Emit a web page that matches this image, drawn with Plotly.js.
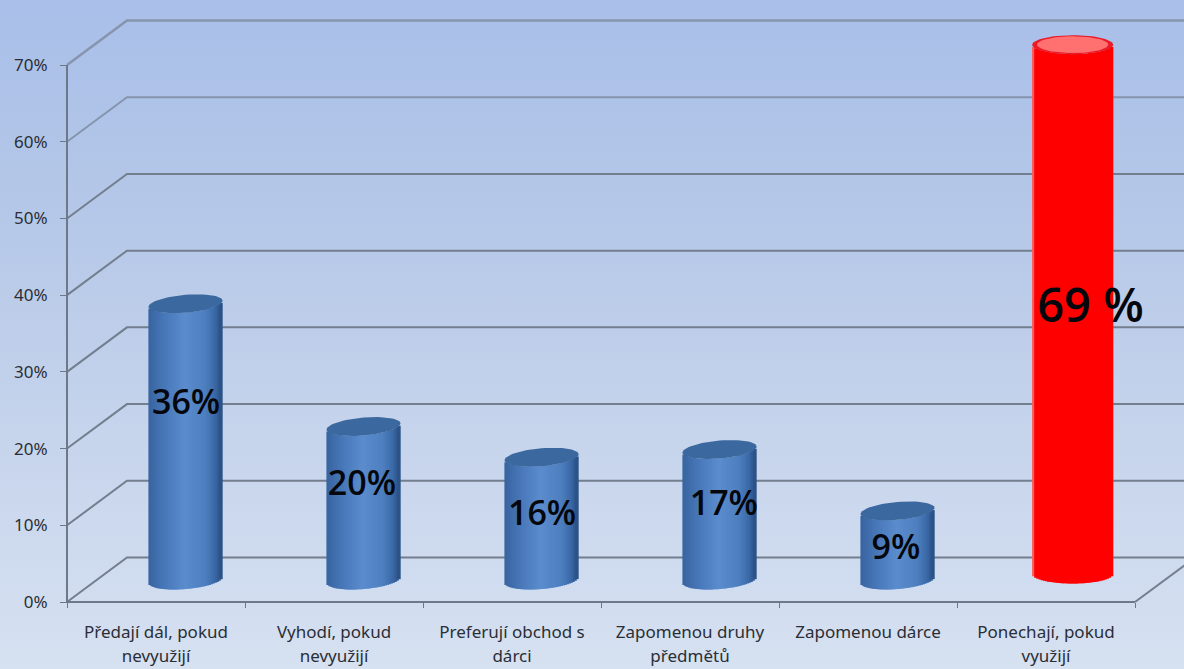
<!DOCTYPE html>
<html lang="cs">
<head>
<meta charset="utf-8">
<title>Nevyužité dárky</title>
<script src="https://cdn.plot.ly/plotly-3.0.1.min.js"></script>
<style>
  html, body { margin: 0; padding: 0; width: 1184px; height: 669px; overflow: hidden;
    background: linear-gradient(180deg, #a9bfe9 0%, #b4c7e8 30%, #c6d4ec 65%, #d6e1f1 100%); }
  #chart { width: 1184px; height: 669px; }
</style>
</head>
<body>
<div id="chart"></div>
<script>
// Survey results
const categories = [
  "Předají dál, pokud<br>nevyužijí",
  "Vyhodí, pokud<br>nevyužijí",
  "Preferují obchod s<br>dárci",
  "Zapomenou druhy<br>předmětů",
  "Zapomenou dárce",
  "Ponechají, pokud<br>využijí"
];
const percentages = [36, 20, 16, 17, 9, 69];
const valueSuffixes = ["%", "%", "%", "%", "%", " %"];
const percentTicks = [0, 10, 20, 30, 40, 50, 60, 70];

// Axis windows: the plot fills the page so the perspective walls can run past the axes
const xWindow = [-0.8764, 5.7753];
const yWindow = [-8.734, 78.473];
const xAxisPosition = 67 / 669;
const yAxisPosition = 67 / 1184;

// Scene geometry, in axis units
const backWallDx = 0.337;
const backWallDy = 5.8;
const pxPerUnitY = 7.67;
const cylinderOffsetX = [0.166, 0.166, 0.166, 0.166, 0.166, 0.15];
const cylinderWidthX = [0.416, 0.416, 0.416, 0.416, 0.416, 0.455];
const cylinderFloor = [2.87, 2.87, 2.87, 2.87, 2.87, 3.65];
const capRadiusY = [9, 9, 9, 9, 9, 9.5].map(p => p / pxPerUnitY);
const capTiltY = [3, 3, 3, 3, 3, 0].map(p => p / pxPerUnitY);
const labelX = [0.169, 1.157, 2.169, 3.19, 4.157, 5.25];
const labelY = [25.6, 15.0, 11.2, 12.5, 6.7, 38.0];
const labelSize = [34, 34, 34, 34, 34, 47];
const highlighted = 5;
const stripCount = 37;

const mix = (a, b, f) => a.map((c, i) => Math.round(c + (b[i] - c) * f));
const rgb = c => `rgb(${c[0]},${c[1]},${c[2]})`;
const blueStops = [[-1, [56, 100, 160]], [-0.55, [72, 120, 184]], [0, [90, 140, 206]],
                   [0.55, [78, 128, 192]], [0.85, [58, 104, 165]], [1, [40, 78, 128]]];

function blueAt(t) {
  for (let i = 1; i < blueStops.length; i++) {
    if (t <= blueStops[i][0]) {
      const [t0, c0] = blueStops[i - 1], [t1, c1] = blueStops[i];
      return rgb(mix(c0, c1, (t - t0) / (t1 - t0)));
    }
  }
  return rgb(blueStops[blueStops.length - 1][1]);
}
const redAt = t => (t < -0.93 || t > 0.98) ? "rgb(255,90,90)" : "rgb(255,0,0)";

const axisColor = "#6d7889";
const traces = [];
const lineTrace = (x, y, color, width) => ({
  type: "scatter", mode: "lines", xaxis: "x", yaxis: "y", hoverinfo: "skip", showlegend: false,
  x, y, line: { color, width }
});

// Back wall and side wall lines, behind the cylinders
const wallX = [-0.5, -0.5 + backWallDx, 5.5 + backWallDx];
percentTicks.forEach(v => {
  const b = v + backWallDy;
  traces.push(lineTrace(wallX, [v, b, b], v >= 60 ? "#8695ae" : "#737f8e", v === 70 ? 2.5 : 2));
});
traces.push(lineTrace([5.5, 5.5 + backWallDx], [0, backWallDy], "#737f8e", 2));

// Axis lines
traces.push(lineTrace([-0.5, -0.5], [0, 70], axisColor, 2));
traces.push(lineTrace([-0.5, 5.5], [0, 0], axisColor, 2));

// Cylinder bodies: each strip is a bar series holding the full values, shaded across the width
for (let k = 0; k < stripCount; k++) {
  const t = (k + 0.5) / stripCount * 2 - 1;
  const arc = Math.sqrt(1 - t * t);
  traces.push({
    type: "bar", xaxis: "x2", yaxis: "y2", hoverinfo: "skip", showlegend: false,
    x: percentages.map((_, i) => i + cylinderOffsetX[i] + t * (1 - 0.8 / stripCount) * cylinderWidthX[i] / 2),
    y: percentages,
    base: percentages.map((_, i) => cylinderFloor[i] - capRadiusY[i] * arc + capTiltY[i] * t),
    width: percentages.map((_, i) => cylinderWidthX[i] / stripCount * 1.9),
    marker: {
      color: percentages.map((_, i) => i === highlighted ? redAt(t) : blueAt(t)),
      line: { width: 0 }
    }
  });
}

// Elliptical caps
function capTrace(i, scale, color) {
  const xs = [], ys = [];
  for (let a = 0; a <= 64; a++) {
    const th = a / 64 * 2 * Math.PI, c = Math.cos(th), s = Math.sin(th);
    xs.push(i + cylinderOffsetX[i] + c * scale * cylinderWidthX[i] / 2);
    ys.push(cylinderFloor[i] + percentages[i] + s * scale * capRadiusY[i] + capTiltY[i] * c);
  }
  return {
    type: "scatter", mode: "lines", xaxis: "x2", yaxis: "y2", hoverinfo: "skip",
    x: xs, y: ys, fill: "toself", fillcolor: color, line: { width: 0, color: color }, showlegend: false
  };
}
percentages.forEach((_, i) => {
  if (i === highlighted) {
    traces.push(capTrace(i, 1, "#ea1b28"));
    traces.push(capTrace(i, 0.88, "#ff7070"));
  } else {
    traces.push(capTrace(i, 1, "#3b689e"));
  }
});

// Value labels
percentages.forEach((v, i) => {
  traces.push({
    type: "scatter", mode: "text", xaxis: "x2", yaxis: "y2", hoverinfo: "skip",
    x: [labelX[i]], y: [labelY[i]], text: [v + valueSuffixes[i]], textposition: "middle center",
    textfont: { family: "Open Sans, sans-serif", size: labelSize[i], weight: 600, color: "#05070c" }, showlegend: false
  });
});

const layout = {
  width: 1184, height: 669,
  margin: { l: 0, r: 0, t: 0, b: 0, pad: 0 },
  paper_bgcolor: "rgba(0,0,0,0)", plot_bgcolor: "rgba(0,0,0,0)",
  showlegend: false, hovermode: false, barmode: "overlay",
  xaxis: {
    type: "linear", range: xWindow, fixedrange: true, showgrid: false, zeroline: false, showline: false,
    anchor: "free", position: xAxisPosition,
    tickmode: "array", tickvals: categories.map((_, i) => i),
    ticktext: categories.map(c => c.split("<br>").map(p => `<span style="font-size:17px">${p}</span>`).join("<br>")),
    ticks: "", tickangle: 0, ticklabelstandoff: 16,
    tickfont: { family: "Noto Sans, sans-serif", size: 18.5, color: "#2a2e36" },
    minor: { tickmode: "array", tickvals: [-0.5, 0.5, 1.5, 2.5, 3.5, 4.5, 5.5], ticks: "outside",
             ticklen: 5, tickwidth: 1, tickcolor: axisColor, showgrid: false }
  },
  yaxis: {
    range: yWindow, fixedrange: true, showgrid: false, zeroline: false, showline: false,
    anchor: "free", position: yAxisPosition,
    tickmode: "array", tickvals: percentTicks, ticktext: percentTicks.map(v => v + "%"),
    ticks: "outside", ticklen: 7, tickwidth: 1, tickcolor: axisColor, ticklabelstandoff: 9,
    tickfont: { family: "Noto Sans, sans-serif", size: 17, color: "#2a2e36" }
  },
  xaxis2: { overlaying: "x", anchor: "y2", range: xWindow, visible: false, fixedrange: true },
  yaxis2: { overlaying: "y", anchor: "x2", range: yWindow, visible: false, fixedrange: true }
};

Plotly.newPlot("chart", traces, layout, { displayModeBar: false, staticPlot: true });
</script>
</body>
</html>
